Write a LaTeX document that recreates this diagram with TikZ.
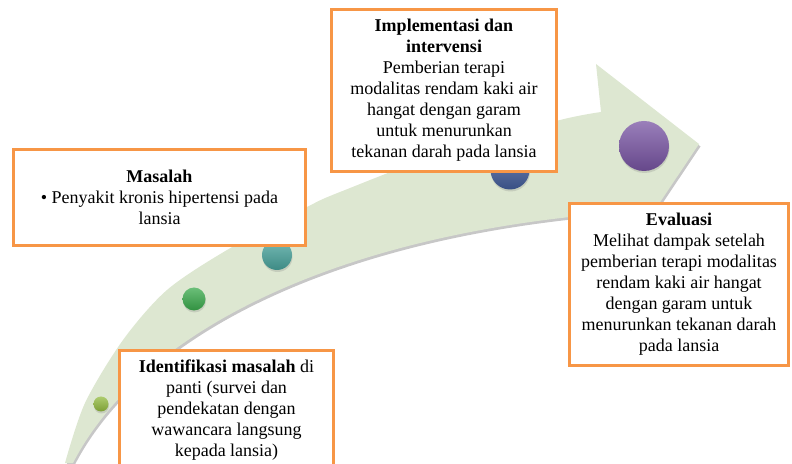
\documentclass[tikz,border=0pt]{standalone}
\usepackage{fontspec}
\setmainfont{Liberation Serif}
\usepackage{tikz}
\usetikzlibrary{shadows}
\usepackage{xcolor}
\definecolor{boxorange}{RGB}{247,150,70}
\definecolor{bandgreen}{RGB}{221,231,209}
\definecolor{dotlime}{RGB}{146,186,62}
\definecolor{dotgreen}{RGB}{58,170,76}
\definecolor{dotteal}{RGB}{72,163,156}
\definecolor{dotblue}{RGB}{66,93,155}
\definecolor{dotpurple}{RGB}{120,84,163}

\begin{document}
\begin{tikzpicture}[x=1pt, y=1pt,
  stagebox/.style={draw=boxorange, line width=3pt, fill=white, align=center, inner sep=0pt, font=\fontsize{18}{21}\selectfont},
  dot/.style={circle, inner sep=0pt, top color=#1!75!white, bottom color=#1!85!black,
    drop shadow={opacity=0.25, shadow xshift=0.5pt, shadow yshift=-2pt}}]
  \useasboundingbox (0,0) rectangle (792,463);
  % curved arrow, shadow first
  \foreach \dx/\dy/\col in {1.5/-2.5/black!22, 0/0/bandgreen}
    \fill[fill=\col, shift={(\dx,\dy)}] (65,0) -- plot[smooth, tension=0.5] coordinates {(65,0)(85,60)(123,123)(167,173)(227,213)(307,256)(340,271)(450,313)(560,343)(601,351)}
      -- (596,399) -- (699,319) -- (620,201) -- (600,249)
      .. controls (330,225) and (140,130) .. (73,0) -- cycle;
  % dots along the arrow
  \node[dot=dotlime, minimum size=15pt] (dot1) at (101,59) {};
  \node[dot=dotgreen, minimum size=23pt] (dot2) at (194,164) {};
  \node[dot=dotteal, minimum size=30pt] (dot3) at (277,208) {};
  \node[dot=dotblue, minimum size=39pt] (dot4) at (510,293) {};
  \node[dot=dotpurple, minimum size=50pt] (dot5) at (644,317) {};
  % stage boxes
  \node[stagebox, minimum width=292pt, minimum height=96pt] (masalah) at (159.5,265.5)
    {\textbf{Masalah}\\ • Penyakit kronis hipertensi pada\\ lansia};
  \node[stagebox, minimum width=225pt, minimum height=162pt] (implementasi) at (444,372.5)
    {\textbf{Implementasi dan}\\ \textbf{intervensi}\\ Pemberian terapi\\ modalitas rendam kaki air\\ hangat dengan garam\\ untuk menurunkan\\ tekanan darah pada lansia};
  \node[stagebox, minimum width=219pt, minimum height=162pt] (evaluasi) at (679,178.5)
    {\textbf{Evaluasi}\\ Melihat dampak setelah\\ pemberian terapi modalitas\\ rendam kaki air hangat\\ dengan garam untuk\\ menurunkan tekanan darah\\ pada lansia};
  \node[stagebox, minimum width=214pt, minimum height=120pt] (identifikasi) at (226.5,52.5)
    {\textbf{Identifikasi masalah} di\\ panti (survei dan\\ pendekatan dengan\\ wawancara langsung\\ kepada lansia)};
\end{tikzpicture}
\end{document}
